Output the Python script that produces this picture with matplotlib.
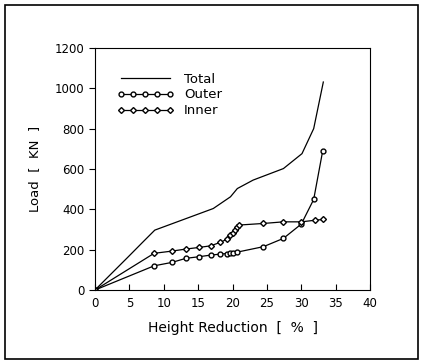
import numpy as np
import matplotlib.pyplot as plt
from matplotlib.patches import Rectangle

# valores
total_x = [0, 4.85, 7.0, 8.7, 17.2, 19.7, 20.7, 23.0, 27.4, 30.1, 31.8, 33.2]
total_y = [0, 165, 239, 297, 404, 462, 503, 545, 602, 676, 800, 1031]

outer_x = [0, 8.6, 11.2, 13.2, 15.1, 16.8, 18.2, 19.2, 19.6, 20.1, 20.7, 24.5, 27.4, 30.0, 31.8, 33.1]
outer_y = [0, 120, 137, 157, 165, 173, 178, 181, 185, 186, 188, 215, 256, 327, 449, 688]

inner_x = [0, 8.6, 11.2, 13.2, 15.1, 16.8, 18.2, 19.2, 19.7, 20.1, 20.4, 20.7, 20.9, 24.5, 27.4, 30.0, 32.0, 33.2]
inner_y = [0, 182, 193, 203, 211, 219, 236, 252, 272, 285, 300, 313, 322, 330, 338, 338, 346, 350]

fig = plt.figure(figsize=(4.22, 3.63), dpi=100)
ax = fig.add_axes([0.225, 0.201, 0.652, 0.667])

ax.plot(total_x, total_y, color="black", lw=0.9, label="Total")
ax.plot(outer_x, outer_y, color="black", lw=0.9, marker="o", ms=3.5,
        mfc="white", mec="black", mew=1.0, label="Outer")
ax.plot(inner_x, inner_y, color="black", lw=0.9, marker="D", ms=3,
        mfc="white", mec="black", mew=1.0, label="Inner")

ax.set_xlim(0, 40)
ax.set_ylim(0, 1200)
ax.set_xticks(range(0, 41, 5))
ax.set_yticks(range(0, 1201, 200))
ax.tick_params(axis="x", direction="in", length=4, labelsize=8.5, pad=5)
ax.tick_params(axis="y", direction="out", length=4, labelsize=8.5)
ax.set_xlabel("Height Reduction  [  %  ]", fontsize=10, labelpad=8)
ax.set_ylabel("Load  [  KN  ]", fontsize=9.5, labelpad=10)

ax.legend(loc="upper left", bbox_to_anchor=(0.06, 0.92), frameon=False,
          handlelength=4.3, fontsize=9.5, labelspacing=0.22, borderaxespad=0,
          numpoints=5, handletextpad=0.8)

fig.patches.append(Rectangle((0.012, 0.012), 0.978, 0.975, transform=fig.transFigure,
                             fill=False, edgecolor="black", lw=1.2))

plt.savefig("out.png", dpi=100)
